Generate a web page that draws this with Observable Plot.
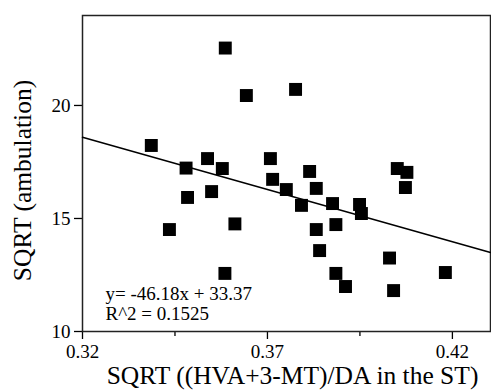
<!DOCTYPE html>
<html><head><meta charset="utf-8">
<script src="https://cdn.jsdelivr.net/npm/d3@7"></script>
<script src="https://cdn.jsdelivr.net/npm/@observablehq/plot@0.6"></script>
<style>body{margin:0;background:#fff;}</style>
</head><body><div id="chart"></div>
<script>
const ratioX = [0.3386,0.3435,0.3480,0.3484,0.3538,0.3549,0.3578,0.3586,0.3585,0.3612,0.3643,0.3708,0.3714,0.3751,0.3776,0.3792,0.3814,0.3832,0.3832,0.3841,0.3876,0.3885,0.3885,0.3911,0.3949,0.3954,0.4030,0.4041,0.4051,0.4077,0.4073,0.4181];
const ambulationY = [18.23,14.51,17.23,15.93,17.65,16.19,17.21,22.54,12.57,14.76,20.44,17.65,16.73,16.28,20.71,15.58,17.08,16.33,14.51,13.58,15.66,14.73,12.57,11.99,15.62,15.22,13.25,11.81,17.21,17.04,16.37,12.61];
const majorXTicks = [0.32, 0.37, 0.42];
const minorXTicks = [0.345, 0.395];
const yTicks = [10, 15, 20];
const fitSlope = -46.18;
const fitIntercept = 33.37;
const rSquared = "0.1525";
const xDomain = [0.32, 0.4303];
const yDomain = [10, 23.98];
const xLabel = "SQRT ((HVA+3-MT)/DA in the ST)";
const yLabel = "SQRT (ambulation)";

const points = ratioX.map((x, i) => ({x, y: ambulationY[i]}));
const fitLine = xDomain.map(x => ({x, y: fitSlope * x + fitIntercept}));
const eqText = `y= ${fitSlope}x + ${fitIntercept}`;
const r2Text = `R^2 = ${rSquared}`;

const chart = Plot.plot({
  width: 491, height: 391,
  marginLeft: 82, marginRight: 1, marginTop: 15, marginBottom: 60,
  style: {fontFamily: "'Liberation Serif', 'Times New Roman', serif", fontSize: "19px", color: "#000", background: "#fff"},
  x: {domain: xDomain},
  y: {domain: yDomain},
  marks: [
    Plot.axisX(majorXTicks, {tickSize: 8, tickPadding: 5, tickFormat: d => d.toFixed(2), label: null, fontSize: 19, strokeWidth: 1.3}),
    Plot.axisX(minorXTicks, {tickSize: 5, tickFormat: () => "", label: null, strokeWidth: 1.3}),
    Plot.axisY(yTicks, {tickSize: 8, tickPadding: 4, label: null, fontSize: 19, strokeWidth: 1.3}),
    Plot.frame({stroke: "#222", strokeWidth: 1.5}),
    Plot.line(fitLine, {x: "x", y: "y", stroke: "#000", strokeWidth: 1.5}),
    Plot.dot(points, {x: "x", y: "y", symbol: "square", r: 7.3, fill: "#000", stroke: null}),
    Plot.text([eqText], {text: d => d, frameAnchor: "bottom-left", dx: 23, dy: -32, textAnchor: "start", lineAnchor: "bottom", fontSize: 19}),
    Plot.text([r2Text], {text: d => d, frameAnchor: "bottom-left", dx: 23, dy: -12, textAnchor: "start", lineAnchor: "bottom", fontSize: 19}),
    Plot.text([xLabel], {text: d => d, frameAnchor: "bottom", dx: 6, dy: 52, textAnchor: "middle", lineAnchor: "bottom", fontSize: 25.5}),
    Plot.text([yLabel], {text: d => d, frameAnchor: "left", rotate: -90, dx: -52, dy: 7, textAnchor: "middle", lineAnchor: "bottom", fontSize: 25.5})
  ]
});
document.getElementById("chart").append(chart);
</script>
</body></html>
